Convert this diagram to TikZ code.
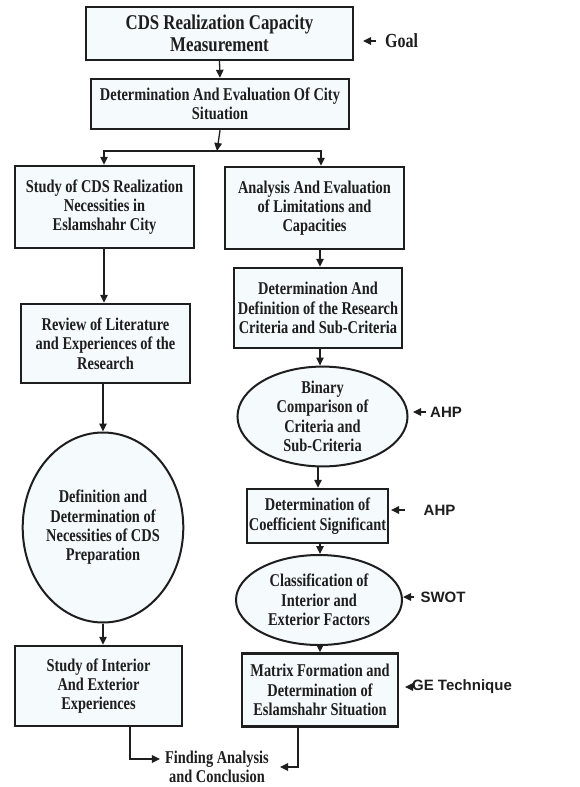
\documentclass[tikz,border=0pt]{standalone}
\usepackage{fontspec}
\setmainfont{Liberation Serif}[FakeStretch=0.8]
\newfontfamily\lblfont{Liberation Sans}
\usetikzlibrary{arrows.meta,shapes.geometric,calc}
\definecolor{boxfill}{RGB}{245,250,253}
\definecolor{ink}{RGB}{30,30,30}
\tikzset{
  box/.style={draw=ink, line width=2.4pt, fill=boxfill, align=center, inner sep=0pt, text=ink,
    font=\bfseries\fontsize{18}{19.3}\selectfont},
  oval/.style={box, ellipse, line width=2pt},
  conn/.style={draw=ink, line width=1.3pt, -{Triangle[length=8pt,width=7.5pt]}},
  side/.style={font=\lblfont\bfseries\fontsize{15}{18}\selectfont, inner sep=0pt, text=ink},
}
\begin{document}
\begin{tikzpicture}[x=1pt,y=-1pt]
\useasboundingbox[fill=white] (0,0) rectangle (579,787);

% column guides
\coordinate (lc) at (104,0);
\coordinate (rc) at (320,0);

\node[box, minimum width=267pt, minimum height=53pt, font=\bfseries\fontsize{21}{22}\selectfont] (b1) at (219.5,33.5) {CDS Realization Capacity\\Measurement};
\node[box, minimum width=258pt, minimum height=50pt] (b2) at (220,104) {Determination And Evaluation Of City\\Situation};
\node[box, minimum width=179pt, minimum height=82pt] (b3) at (104.5,207) {Study of CDS Realization\\Necessities in\\Eslamshahr City};
\node[box, minimum width=179pt, minimum height=82pt] (b4) at (314.5,208) {Analysis And Evaluation\\of Limitations and\\Capacities};
\node[box, minimum width=168pt, minimum height=80pt] (b5) at (318,308) {Determination And\\Definition of the Research\\Criteria and Sub-Criteria};
\node[box, minimum width=169pt, minimum height=79pt] (b6) at (105.5,343.5) {Review of Literature\\and Experiences of the\\Research};
\node[oval, minimum width=170pt, minimum height=98pt] (e7) at (322.5,416.5) {Binary\\Comparison of\\Criteria and\\Sub-Criteria};
\node[oval, minimum width=127pt, minimum height=190pt] (eL) at (103,527.5) {Definition and\\Determination of\\Necessities of CDS\\Preparation};
\node[box, minimum width=141pt, minimum height=54pt] (b8) at (317.5,516) {Determination of\\Coefficient Significant};
\node[oval, minimum width=166pt, minimum height=90pt] (e9) at (319,600) {Classification of\\Interior and\\Exterior Factors};
\node[box, minimum width=167pt, minimum height=80pt] (b11) at (98.5,686) {Study of Interior\\And Exterior\\Experiences};
\node[box, minimum width=156pt, minimum height=73pt] (b10) at (320,690) {Matrix Formation and\\Determination of\\Eslamshahr Situation};
\node[align=center, inner sep=2pt, text=ink, font=\bfseries\fontsize{18}{19}\selectfont] (fin) at (217,767) {Finding Analysis\\and Conclusion};

% main connectors
\draw[conn] (b1.south) -- (b2.north);
\coordinate (split) at (217,151);
\draw[conn] (b2.south) -- (split);
\draw[conn] (split) -| (b3.north -| lc);
\draw[conn] (split) -| ([xshift=6.5pt]b4.north);
\draw[conn] (b4.south -| rc) -- (b5.north -| rc);
\draw[conn] (b5.south -| rc) -- (e7.north -| rc);
\draw[conn] ([xshift=-4.5pt]e7.south) -- ([xshift=0.5pt]b8.north);
\draw[conn] (b8.south -| rc) -- (e9.north -| rc);
\draw[conn] (e9.south -| rc) -- (b10.north -| rc);
\draw[conn] (b3.south -| lc) -- (b6.north -| lc);
\draw[conn] (b6.south -| eL.north) -- (eL.north);
\draw[conn] (eL.south) -- (b11.north -| eL.south);
\draw[conn] ([xshift=31.5pt]b11.south) |- ([xshift=-3pt,yshift=8pt]fin.west);
\draw[conn] ([xshift=-22pt]b10.south) |- ([xshift=9pt,yshift=0pt]fin.east);

% side labels
\node[side, font=\bfseries\fontsize{20}{22}\selectfont] (goal) at (401.5,41) {Goal};
\coordinate (goaltip) at (363,41);
\draw[conn] ([xshift=-9pt]goal.west) -- (goaltip);

\node[side] (ahp1) at (446,412) {AHP};
\coordinate (ahp1tip) at (413,412);
\draw[conn] ([xshift=-4pt]ahp1.west) -- (ahp1tip);

\node[side] (ahp2) at (439.5,510) {AHP};
\coordinate (ahp2tip) at (391,510);
\draw[conn] ([xshift=-18pt]ahp2.west) -- (ahp2tip);

\node[side] (swot) at (443,597) {SWOT};
\coordinate (swottip) at (403,597);
\draw[conn] ([xshift=-6pt]swot.west) -- (swottip);

\node[side] (ge) at (462,687) {GE Technique};
\coordinate (getip) at (405,687);
\draw[conn] ([xshift=1pt]ge.west) -- (getip);
\end{tikzpicture}
\end{document}
